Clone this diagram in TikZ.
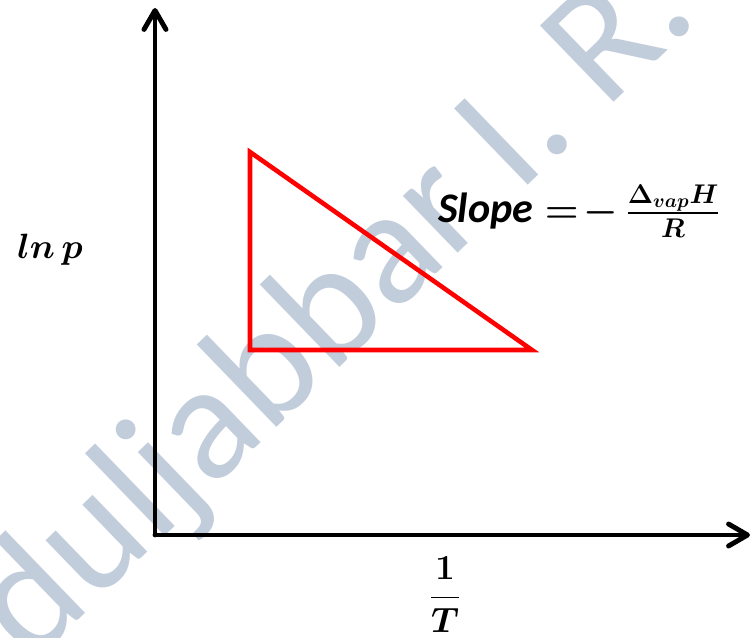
\RequirePackage{fix-cm}
\documentclass[tikz,border=0pt]{standalone}
\usepackage{amsmath,amssymb}
\usepackage{fontspec}
\usepackage{xcolor}
\usepackage{tikz}
\usetikzlibrary{arrows.meta}
\newfontfamily\calib{Carlito}
\definecolor{wmgray}{RGB}{194,205,219}

\begin{document}
\begin{tikzpicture}[
  x=0.02cm, y=0.02cm,
  axis/.style={line width=2.8pt, line cap=round,
    -{Straight Barb[length=3.8mm, width=4.4mm, line cap=round, line join=round]}},
  slopetri/.style={draw=red, line width=2.6pt},
  lbl/.style={inner sep=1pt, font=\fontsize{20}{22}\selectfont\boldmath},
  wmark/.style={text=wmgray, inner sep=0pt, font=\calib\fontsize{94}{94}\selectfont}]
  \useasboundingbox (0,0) rectangle (752,637);
  \clip (0,0) rectangle (752,637);
  % watermark behind everything
  \node[wmark, anchor=base west, rotate=44] (mark) at (-100,-155) {Abduljabbar I. R.};
  % axes
  \coordinate (O) at (155,102);
  \coordinate (ytip) at (155,629);
  \coordinate (xtip) at (750,102);
  \draw[axis] (O) -- (ytip);
  \draw[axis] (O) -- (xtip);
  % slope triangle
  \coordinate (tA) at (250,485);
  \coordinate (tB) at (250,287);
  \coordinate (tC) at (532,287);
  \draw[slopetri] (tA) -- (tB) -- (tC) -- cycle;
  % labels
  \node[lbl] (lnp) at (50,387) {$ln\,p$};
  \node[lbl] (invT) at (445,42) {$\dfrac{1}{T}$};
  \node[lbl, anchor=west, font=\fontsize{22}{24}\selectfont\boldmath] (slope) at (436,426)
    {{\calib\bfseries\itshape\fontsize{24}{24}\selectfont Slope} $=\!-\,\frac{\Delta_{vap}H}{R}$};
\end{tikzpicture}
\end{document}
